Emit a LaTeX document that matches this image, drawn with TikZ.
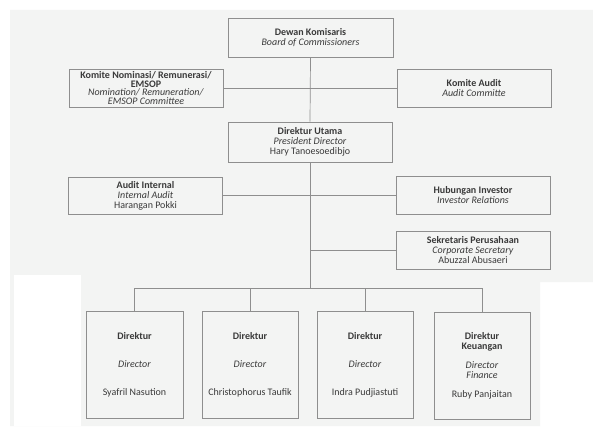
\documentclass[tikz,border=0pt]{standalone}
\usepackage{fontspec}
\setmainfont{Carlito}
\definecolor{paper}{HTML}{F3F4F3}
\definecolor{rule}{HTML}{8E8E8E}
\definecolor{ink}{HTML}{3A3A3A}
\begin{document}
\begin{tikzpicture}[x=1pt,y=-1pt,
  unit/.style={draw=rule, line width=0.7pt, rectangle, align=center,
    inner sep=0pt, text=ink, font=\fontsize{10}{10}\selectfont},
  wide/.style={unit, minimum width=154pt, minimum height=38pt},
  chief/.style={unit, minimum width=165pt, minimum height=39pt},
  dirbox/.style={unit, minimum width=97pt, minimum height=107pt},
  link/.style={draw=rule, line width=0.7pt}]
\useasboundingbox (0,0) rectangle (593,430);
% scanned page with its white margins
\fill[white] (0,0) rectangle (593,430);
\fill[paper] (10,10) -- (593,10) -- (593,282) -- (540,282) -- (540,426) -- (10,426) -- cycle;
\fill[white] (14,275) rectangle (81,426);

% board level
\node[chief] (board) at (310.5,37.5)
  {\textbf{Dewan Komisaris}\\\textit{Board of Commissioners}};
\node[wide, font=\fontsize{10}{8.6}\selectfont] (nomination) at (146,88)
  {\textbf{Komite Nominasi/ Remunerasi/}\\\textbf{EMSOP}\\
   \textit{Nomination/ Remuneration/}\\\textit{EMSOP Committee}};
\node[wide] (auditcom) at (474,88)
  {\textbf{Komite Audit}\\\textit{Audit Committe}};

% president director and staff units
\node[chief, minimum width=164pt, minimum height=40pt] (president) at (310,142)
  {\textbf{Direktur Utama}\\\textit{President Director}\\Hary Tanoesoedibjo};
\node[wide, minimum height=37pt] (internal) at (145.5,195.5)
  {\textbf{Audit Internal}\\\textit{Internal Audit}\\Harangan Pokki};
\node[wide] (investor) at (473,195.5)
  {\textbf{Hubungan Investor}\\\textit{Investor Relations}};
\node[wide] (secretary) at (473,250)
  {\textbf{Sekretaris Perusahaan}\\\textit{Corporate Secretary}\\Abuzzal Abusaeri};

% directors
\node[dirbox] (dirA) at (134.5,364.5)
  {\textbf{Direktur}\\[18pt]\textit{Director}\\[18pt]Syafril Nasution};
\node[dirbox, minimum width=96pt] (dirB) at (250,364.5)
  {\textbf{Direktur}\\[18pt]\textit{Director}\\[18pt]Christophorus Taufik};
\node[dirbox, minimum width=96pt] (dirC) at (365,365)
  {\textbf{Direktur}\\[18pt]\textit{Director}\\[18pt]Indra Pudjiastuti};
\node[dirbox, minimum width=96pt] (dirD) at (482,365.5)
  {\textbf{Direktur}\\\textbf{Keuangan}\\[9pt]\textit{Director}\\\textit{Finance}\\[9pt]Ruby Panjaitan};

% connectors
\coordinate (bus) at (310,288);
\draw[link] (board.south) -- (president.north);
\draw[link] (nomination.east) -- (auditcom.west);
\draw[link] (president.south) -- (bus);
\draw[link] (internal.east) -- (investor.west);
\draw[link] (secretary.west) -- (secretary.west -| bus);
\draw[link] (dirA.north) -- (dirA.north |- bus) -- (dirD.north |- bus) -- (dirD.north);
\draw[link] (dirB.north) -- (dirB.north |- bus);
\draw[link] (dirC.north) -- (dirC.north |- bus);
\end{tikzpicture}
\end{document}
